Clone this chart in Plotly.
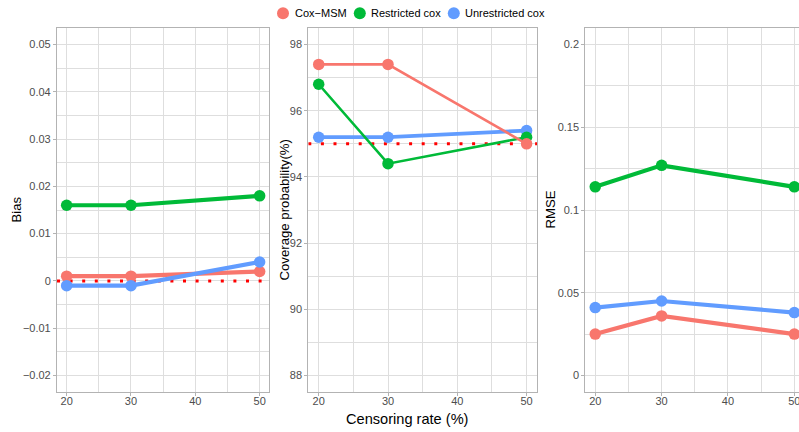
import plotly.graph_objects as go

# Simulation results by censoring rate
rates = [20, 30, 50]
methods = ["Cox\u2212MSM", "Restricted cox", "Unrestricted cox"]
colors = ["#F8766D", "#00BA38", "#619CFF"]

bias_msm = [0.001, 0.001, 0.002]
bias_restricted = [0.016, 0.016, 0.018]
bias_unrestricted = [-0.001, -0.001, 0.004]

cover_msm = [97.4, 97.4, 95.0]
cover_restricted = [96.8, 94.4, 95.2]
cover_unrestricted = [95.2, 95.2, 95.4]

rmse_msm = [0.025, 0.036, 0.025]
rmse_restricted = [0.114, 0.127, 0.114]
rmse_unrestricted = [0.041, 0.045, 0.038]

# Reference values (dotted lines); None means no reference line
targets = [0, 95, None]

FONT = "Liberation Sans, Arial, sans-serif"
W, H = 799, 432
GRID = "#dedede"
BORDER = "#b3b3b3"
TICKC = "#4d4d4d"

x_range = [18.5, 51.5]
x_range_last = [18.5, 50.7]

fig = go.Figure()

panels = [
    # (xaxis, yaxis, series, draw order, line widths, x range)
    ("x", "y", [bias_msm, bias_restricted, bias_unrestricted], [0, 1, 2], [4.2, 4.2, 4.2], x_range),
    ("x2", "y2", [cover_msm, cover_restricted, cover_unrestricted], [2, 1, 0], [2.6, 2.6, 3.8], x_range),
    ("x3", "y3", [rmse_msm, rmse_restricted, rmse_unrestricted], [0, 1, 2], [4.2, 4.2, 4.2], x_range_last),
]

for p, (xa, ya, series, order, widths, xr) in enumerate(panels):
    # dotted reference line spanning the whole panel
    if targets[p] is not None:
        fig.add_trace(go.Scatter(
            x=xr, y=[targets[p], targets[p]], mode="lines", xaxis=xa, yaxis=ya,
            line=dict(color="#FF0000", width=3, dash="3px,9.6px"),
            showlegend=False, hoverinfo="skip",
        ))
    for i in order:
        fig.add_trace(go.Scatter(
            x=rates, y=series[i], mode="lines", xaxis=xa, yaxis=ya,
            line=dict(color=colors[i], width=widths[i]),
            showlegend=False, hoverinfo="skip", cliponaxis=False,
        ))
    for i in order:
        fig.add_trace(go.Scatter(
            x=rates, y=series[i], mode="markers", xaxis=xa, yaxis=ya,
            marker=dict(color=colors[i], size=11.5, line=dict(width=0)),
            name=methods[i], showlegend=False, cliponaxis=False,
        ))

ydom = [40 / H, 404 / H]
xdoms = [[57 / W, 269.3 / W], [308.3 / W, 537 / W], [585.3 / W, 1.0]]


def xaxis_cfg(dom, rng, anchor):
    return dict(
        domain=dom, range=rng, tickvals=[20, 30, 40, 50], anchor=anchor,
        showgrid=True, gridcolor=GRID, gridwidth=1.1,
        minor=dict(tickvals=[25, 35, 45], showgrid=True, gridcolor=GRID, gridwidth=0.6),
        showline=True, linecolor=BORDER, linewidth=1.1, mirror=True,
        ticks="outside", ticklen=3, tickcolor=BORDER, tickwidth=1.1,
        tickfont=dict(family=FONT, size=11, color=TICKC),
        ticklabeloverflow="allow", ticklabelstandoff=-4,
        zeroline=False, fixedrange=True,
    )


def yaxis_cfg(rng, dtick, anchor, mirror=True):
    return dict(
        domain=ydom, range=rng, dtick=dtick, tick0=0, anchor=anchor,
        showgrid=True, gridcolor=GRID, gridwidth=1.1,
        minor=dict(dtick=dtick / 2, showgrid=True, gridcolor=GRID, gridwidth=0.6),
        showline=True, linecolor=BORDER, linewidth=1.1, mirror=mirror,
        ticks="outside", ticklen=3, tickcolor=BORDER, tickwidth=1.1,
        tickfont=dict(family=FONT, size=11, color=TICKC),
        zeroline=False, fixedrange=True,
    )


fig.update_layout(
    width=W, height=H,
    margin=dict(l=0, r=0, t=0, b=0),
    paper_bgcolor="white", plot_bgcolor="white",
    font=dict(family=FONT, color="black"),
    xaxis=xaxis_cfg(xdoms[0], x_range, "y"),
    xaxis2=xaxis_cfg(xdoms[1], x_range, "y2"),
    xaxis3=xaxis_cfg(xdoms[2], x_range_last, "y3"),
    yaxis=yaxis_cfg([-0.0235, 0.0535], 0.01, "x"),
    yaxis2=yaxis_cfg([87.5, 98.5], 2, "x2"),
    yaxis3=yaxis_cfg([-0.01, 0.21], 0.05, "x3", mirror=False),
    showlegend=False,
)

# Legend row: colour key circles and labels
key_x = [283.0, 359.8, 453.8]
label_x = [293.3, 369.3, 463.3]
key_y = 13.3
for i, name in enumerate(methods):
    fig.add_shape(type="circle", xref="paper", yref="paper",
                  xsizemode="pixel", ysizemode="pixel",
                  xanchor=key_x[i] / W, yanchor=1 - key_y / H,
                  x0=-6, x1=6, y0=-6, y1=6,
                  fillcolor=colors[i], line=dict(width=0))
    fig.add_annotation(text=name, x=label_x[i] / W, y=1 - key_y / H,
                       xref="paper", yref="paper", xanchor="left", yanchor="middle",
                       showarrow=False, font=dict(family=FONT, size=11, color="black"))

# Axis titles
titles = [
    dict(text="Bias", x=15.5, y=210, textangle=-90, size=13.2),
    dict(text="Coverage probability(%)", x=283.5, y=210, textangle=-90, size=13.2),
    dict(text="RMSE", x=549.5, y=210, textangle=-90, size=13.2),
    dict(text="Censoring rate (%)", x=407, y=418.5, textangle=0, size=14.6),
]
for t in titles:
    fig.add_annotation(
        text=t["text"], x=t["x"] / W, y=1 - t["y"] / H, xref="paper", yref="paper",
        xanchor="center", yanchor="middle", textangle=t["textangle"],
        showarrow=False, font=dict(family=FONT, size=t["size"], color="black"),
    )

fig.write_html("out.html", config={"displayModeBar": False})
